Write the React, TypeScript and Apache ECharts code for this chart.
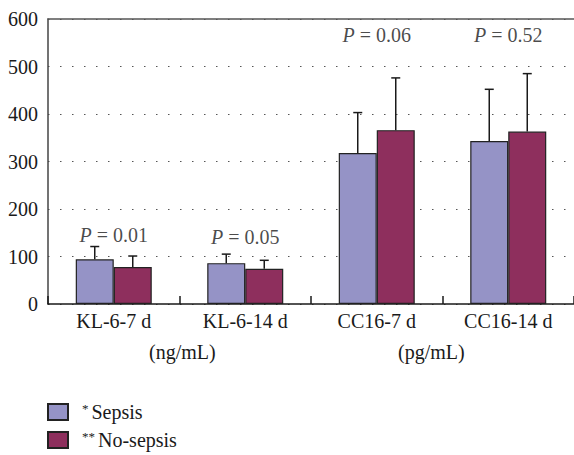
import React, { useEffect, useRef } from "react";
import * as echarts from "echarts";

const categories = ["KL-6-7 d", "KL-6-14 d", "CC16-7 d", "CC16-14 d"];
const sepsisMeans = [94, 86, 318, 343];
const sepsisUpper = [121, 105, 403, 452];
const noSepsisMeans = [78, 74, 366, 363];
const noSepsisUpper = [101, 92, 476, 485];
const pTexts = ["0.01", "0.05", "0.06", "0.52"];
const pHeights = [145, 141, 566, 566];
const unitLabels = ["(ng/mL)", "(pg/mL)"];

const FONT = "Liberation Serif";
const BAR_W = 38;
const SEPSIS_COLOR = "#9593c6";
const NOSEPSIS_COLOR = "#8e2f5d";

function errorSeries(name: string, means: number[], upper: number[], side: number) {
  return {
    type: "custom",
    name: name + "-err",
    z: 5,
    silent: true,
    data: means.map((m, i) => [i, m, upper[i]]),
    renderItem: (params: any, api: any) => {
      const i = api.value(0);
      const base = api.coord([i, api.value(1)]);
      const top = api.coord([i, api.value(2)]);
      const x = base[0] + (side * BAR_W) / 2;
      const style = { stroke: "#1a1a1a", lineWidth: 1.5 };
      return {
        type: "group",
        children: [
          { type: "line", shape: { x1: x, y1: base[1], x2: x, y2: top[1] }, style },
          { type: "line", shape: { x1: x - 4.5, y1: top[1], x2: x + 4.5, y2: top[1] }, style },
        ],
      };
    },
  };
}

export default function App() {
  const ref = useRef<HTMLDivElement>(null);
  useEffect(() => {
    document.body.style.margin = "0";
    const chart = echarts.init(ref.current!, null, { renderer: "svg" });
    chart.setOption({
      animation: false,
      backgroundColor: "#ffffff",
      textStyle: { fontFamily: FONT },
      grid: { left: 48, top: 19, right: -4, bottom: 151, containLabel: false },
      legend: {
        orient: "vertical",
        left: 47,
        top: 402,
        height: 60,
        padding: 0,
        itemWidth: 20,
        itemHeight: 16,
        itemGap: 8,
        icon: "rect",
        align: "left",
        data: ["Sepsis", "No-sepsis"],
        formatter: (name: string) =>
          name === "Sepsis" ? "{s|*}Sepsis" : "{s|**}No-sepsis",
        textStyle: {
          fontFamily: FONT,
          fontSize: 20,
          lineHeight: 20,
          color: "#1a1a1a",
          padding: [0, 0, 0, 9],
          rich: {
            s: { fontFamily: FONT, fontSize: 13, lineHeight: 20, color: "#1a1a1a", verticalAlign: "top", padding: [0, 3, 0, 0] },
          },
        },
      },
      xAxis: [
        {
          type: "category",
          data: categories,
          position: "bottom",
          axisLine: { show: true, lineStyle: { color: "#1a1a1a", width: 1.5 } },
          axisTick: { show: true, inside: true, length: 8, lineStyle: { color: "#1a1a1a", width: 1.5 } },
          axisLabel: { fontFamily: FONT, fontSize: 20, color: "#1a1a1a", margin: 7 },
        },
        {
          type: "category",
          data: categories,
          position: "top",
          axisLine: { show: true, lineStyle: { color: "#555555", width: 1.5 } },
          axisTick: { show: false },
          axisLabel: { show: false },
        },
      ],
      yAxis: {
        type: "value",
        min: 0,
        max: 600,
        interval: 100,
        axisLine: { show: true, lineStyle: { color: "#444444", width: 1.5 } },
        axisTick: { show: false },
        axisLabel: { fontFamily: FONT, fontSize: 20, color: "#1a1a1a", margin: 10 },
        splitLine: { show: true, lineStyle: { color: "#555555", width: 1, type: [1.5, 10.5] } },
      },
      series: [
        {
          name: "Sepsis",
          type: "bar",
          data: sepsisMeans,
          barWidth: BAR_W,
          barGap: "0%",
          itemStyle: { color: SEPSIS_COLOR, borderColor: "#222222", borderWidth: 1.2 },
        },
        {
          name: "No-sepsis",
          type: "bar",
          data: noSepsisMeans,
          barWidth: BAR_W,
          barGap: "0%",
          itemStyle: { color: NOSEPSIS_COLOR, borderColor: "#222222", borderWidth: 1.2 },
        },
        errorSeries("Sepsis", sepsisMeans, sepsisUpper, -1),
        errorSeries("No-sepsis", noSepsisMeans, noSepsisUpper, 1),
        {
          type: "scatter",
          name: "pvals",
          symbolSize: 0,
          silent: true,
          data: pHeights.map((h, i) => [i, h]),
          label: {
            show: true,
            position: "inside",
            formatter: (p: any) => "{i|P} = " + pTexts[p.dataIndex],
            fontFamily: FONT,
            fontSize: 20,
            color: "#1a1a1a",
            rich: {
              i: { fontFamily: FONT, fontSize: 20, fontStyle: "italic", color: "#1a1a1a" },
            },
          },
        },
      ],
      graphic: [
        {
          type: "text",
          left: 149,
          top: 342,
          style: { text: unitLabels[0], font: `20px ${FONT}`, fill: "#1a1a1a" },
        },
        {
          type: "text",
          left: 398,
          top: 342,
          style: { text: unitLabels[1], font: `20px ${FONT}`, fill: "#1a1a1a" },
        },
      ],
    });
    return () => chart.dispose();
  }, []);
  return <div ref={ref} style={{ width: 574, height: 455 }} />;
}
